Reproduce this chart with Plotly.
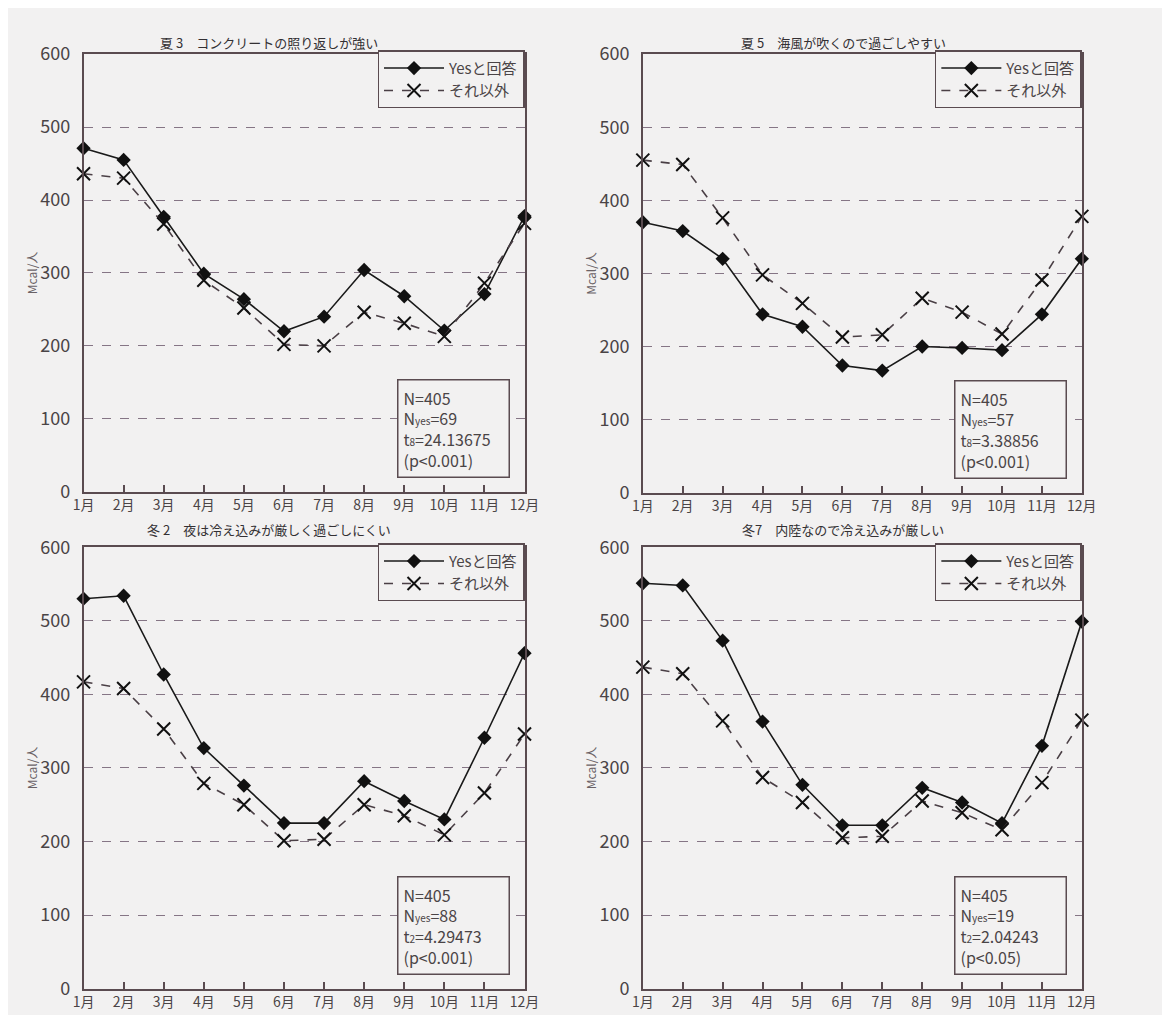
import plotly.graph_objects as go

months = [1, 2, 3, 4, 5, 6, 7, 8, 9, 10, 11, 12]
month_labels = ["1月", "2月", "3月", "4月", "5月", "6月", "7月", "8月", "9月", "10月", "11月", "12月"]

titles = [
    "夏 3　コンクリートの照り返しが強い",
    "夏 5　海風が吹くので過ごしやすい",
    "冬 2　夜は冷え込みが厳しく過ごしにくい",
    "冬7　内陸なので冷え込みが厳しい",
]

yes_s3 = [471, 455, 377, 299, 264, 220, 240, 304, 268, 221, 271, 378]
other_s3 = [436, 430, 367, 290, 252, 202, 200, 246, 231, 213, 286, 368]

yes_s5 = [370, 358, 320, 244, 227, 174, 167, 200, 198, 195, 244, 320]
other_s5 = [455, 449, 376, 298, 259, 213, 216, 266, 247, 217, 291, 378]

yes_w2 = [530, 534, 427, 327, 276, 225, 225, 282, 255, 230, 341, 456]
other_w2 = [417, 408, 353, 279, 250, 201, 203, 250, 235, 209, 266, 346]

yes_w7 = [551, 548, 473, 363, 277, 222, 222, 273, 253, 225, 330, 499]
other_w7 = [437, 428, 364, 287, 253, 205, 207, 255, 239, 216, 280, 365]

SM = "<span style='font-size:10px'>"
stats = [
    f"N=405<br>N{SM}yes</span>=69<br>t{SM}8</span>=24.13675<br>(p<0.001)",
    f"N=405<br>N{SM}yes</span>=57<br>t{SM}8</span>=3.38856<br>(p<0.001)",
    f"N=405<br>N{SM}yes</span>=88<br>t{SM}2</span>=4.29473<br>(p<0.001)",
    f"N=405<br>N{SM}yes</span>=19<br>t{SM}2</span>=2.04243<br>(p<0.05)",
]

series_yes = [yes_s3, yes_s5, yes_w2, yes_w7]
series_other = [other_s3, other_s5, other_w2, other_w7]

W, H = 1170, 1015
FONT = "Noto Sans CJK JP"
TXT = "#4a4446"
AXC = "#5a4b50"
GRID = "#857585"
BG = "#f2f1f1"

# panel pixel boxes: (left, right, top, bottom)
boxes = [(66, 517, 32, 481), (638, 1087, 32, 482), (66, 517, 538, 991), (638, 1087, 538, 991)]

fig = go.Figure()
layout = dict(
    width=W, height=H,
    margin=dict(l=0, r=0, t=0, b=0),
    paper_bgcolor=BG, plot_bgcolor=BG,
    font=dict(family=FONT, color=TXT),
    annotations=[],
)

for i in range(4):
    n = i + 1
    xa = "x" if n == 1 else f"x{n}"
    ya = "y" if n == 1 else f"y{n}"
    lg = "legend" if n == 1 else f"legend{n}"
    l, r, t, b = boxes[i]
    fig.add_trace(go.Scatter(
        x=months, y=series_yes[i], name="Yesと回答", xaxis=xa, yaxis=ya, legend=lg,
        mode="lines+markers", cliponaxis=False,
        line=dict(color="#1a1a1a", width=1.6),
        marker=dict(symbol="diamond", size=11, color="#111111"),
    ))
    fig.add_trace(go.Scatter(
        x=months, y=series_other[i], name="それ以外", xaxis=xa, yaxis=ya, legend=lg,
        mode="lines+markers", cliponaxis=False,
        line=dict(color="#4a3f45", width=1.6, dash="dash"),
        marker=dict(symbol="x-thin-open", size=13, color="#111111", line=dict(width=2, color="#111111")),
    ))
    xkey = "xaxis" if n == 1 else f"xaxis{n}"
    ykey = "yaxis" if n == 1 else f"yaxis{n}"
    layout[xkey] = dict(
        domain=[l / W, r / W], anchor=ya, range=[1, 12],
        tickvals=months, ticktext=month_labels,
        ticks="inside", ticklen=7, tickcolor=AXC, tickwidth=1.5,
        showline=True, linecolor=AXC, linewidth=1.5, mirror=True,
        showgrid=False, zeroline=False,
        tickfont=dict(size=14, color=TXT, family=FONT),
    )
    layout[ykey] = dict(
        domain=[1 - b / H, 1 - t / H], anchor=xa, range=[0, 600],
        tickvals=[0, 100, 200, 300, 400, 500, 600],
        showline=True, linecolor=AXC, linewidth=1.5, mirror=True,
        showgrid=True, gridcolor=GRID, gridwidth=1.3, griddash="dash",
        zeroline=False, ticks="", ticklabelstandoff=8,
        tickfont=dict(size=18, color=TXT, family=FONT),
        title=dict(text="Mcal/人", font=dict(size=12, color="#6a6266", family=FONT), standoff=0),
    )
    layout[lg] = dict(
        x=r / W, xanchor="right", y=1 - (t - 4) / H, yanchor="top",
        xref="paper", yref="paper",
        bgcolor=BG, bordercolor=AXC, borderwidth=1.5,
        font=dict(size=15, color=TXT, family=FONT),
        itemwidth=60, tracegroupgap=0,
    )
    cx = (256 if i % 2 == 0 else 843) / W
    cy = 1 - (20 if i < 2 else 520) / H
    layout["annotations"].append(dict(
        text=titles[i], xref="paper", yref="paper", x=cx, y=cy,
        xanchor="center", yanchor="middle", showarrow=False,
        font=dict(size=13, color="#333033", family=FONT),
    ))
    layout["annotations"].append(dict(
        text=stats[i], xref=f"{xa} domain", yref=f"{ya} domain",
        x=1 - 15 / (r - l), y=14 / (b - t), xanchor="right", yanchor="bottom",
        showarrow=False, align="left", bgcolor=BG,
        bordercolor=AXC, borderwidth=1.5, borderpad=5, width=100,
        font=dict(size=16, color=TXT, family=FONT),
    ))

fig.update_layout(**layout)
fig.write_html("out.html")
